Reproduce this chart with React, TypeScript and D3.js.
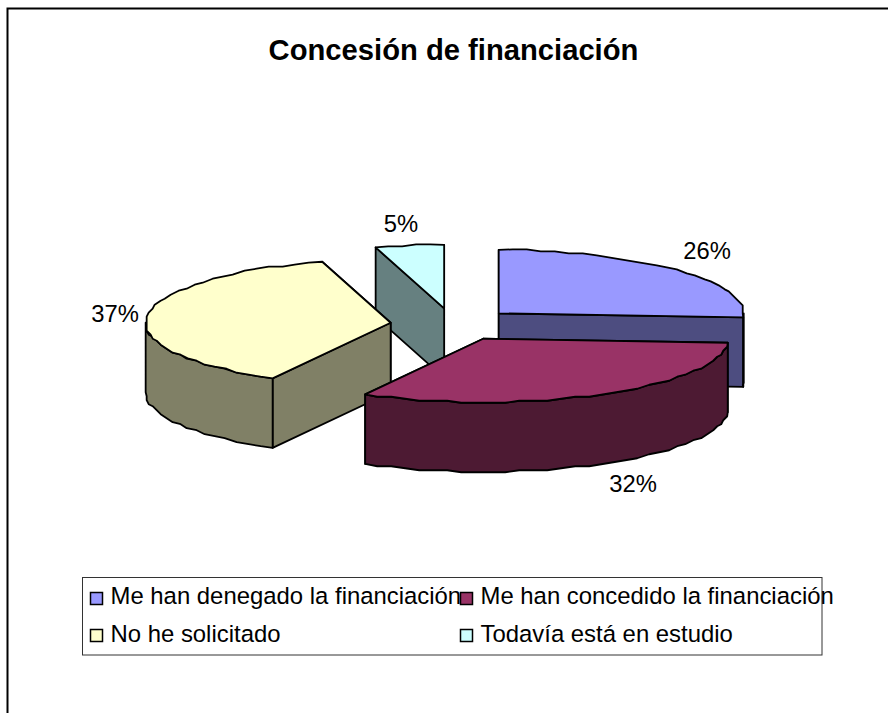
import React from "react";
import * as d3 from "d3";

const titleText = "Concesión de financiación";
const categories = [
  "Me han denegado la financiación",
  "Me han concedido la financiación",
  "No he solicitado",
  "Todavía está en estudio",
];
const values = [26.0, 32.0, 37.49, 4.51];
const topColors = ["#9999FF", "#993366", "#FFFFCC", "#CCFFFF"];
const wallColors = ["#4D4D80", "#4D1A33", "#808066", "#668080"];
const labelAnchors = [
  [707, 259],
  [633, 492],
  [115, 321.5],
  [401, 232],
];

const W = 888;
const H = 713;
const cx = 453;
const cy = 324.5;
const rx = 245;
const ry = 63.5;
const depth = 69.5;
const explode = 0.256;
const grid = 2;

const project = (a: number, r = 1) => [r * rx * Math.sin(a), -r * ry * Math.cos(a)];

function arcPoints(ox: number, oy: number, a0: number, a1: number) {
  const n = Math.max(2, Math.ceil(Math.abs(a1 - a0) / 0.06));
  return d3.range(n + 1).map((i) => {
    const a = a0 + ((a1 - a0) * i) / n;
    const [x, y] = project(a);
    const edge = i === 0 || i === n;
    return [
      ox + (edge ? x : Math.round(x / grid) * grid),
      oy + (edge ? y : Math.round(y / grid) * grid),
    ] as [number, number];
  });
}

export default function App() {
  const arcs = d3.pie<number>().sort(null)(values);
  const line = d3.line();
  const slices = arcs
    .map((d) => {
      const mid = (d.startAngle + d.endAngle) / 2;
      const [ex, ey] = project(mid, explode);
      return { d, ox: cx + ex, oy: cy + ey };
    })
    .sort((p, q) => p.oy - q.oy);

  const legendX = d3.scaleOrdinal<number, number>().domain([0, 1]).range([90, 460]);
  const legendY = d3.scaleOrdinal<number, number>().domain([0, 1]).range([592, 629]);
  const legendBaseline = d3.scaleOrdinal<number, number>().domain([0, 1]).range([604, 642]);

  return (
    <svg
      width={W}
      height={H}
      viewBox={`0 0 ${W} ${H}`}
      style={{ position: "absolute", left: 0, top: 0, display: "block", background: "#fff" }}
      fontFamily="'Liberation Sans', Arial, sans-serif"
    >
      <path d={`M7.5 713V8.5H888`} fill="none" stroke="#000" strokeWidth={2} />
      <text x={453.5} y={60} textAnchor="middle" fontSize={29.2} fontWeight="bold" fill="#000">
        {titleText}
      </text>

      {slices.map(({ d, ox, oy }) => {
        const i = d.index;
        const a0 = d.startAngle;
        const a1 = d.endAngle;
        const top = arcPoints(ox, oy, a0, a1);
        const apex: [number, number] = [ox, oy];
        const radial = [
          { p: top[0] },
          { p: top[top.length - 1] },
        ].sort((m, n) => m.p[1] - n.p[1]);
        const f0 = Math.max(a0, Math.PI / 2);
        const f1 = Math.min(a1, (3 * Math.PI) / 2);
        const front = f1 > f0 ? arcPoints(ox, oy, f0, f1) : null;
        return (
          <g key={i} stroke="#000" strokeWidth={1.8} strokeLinejoin="round">
            {radial.map((r, k) => (
              <path
                key={k}
                fill={wallColors[i]}
                d={
                  line([
                    apex,
                    r.p,
                    [r.p[0], r.p[1] + depth],
                    [apex[0], apex[1] + depth],
                  ])! + "Z"
                }
              />
            ))}
            {front && (
              <path
                fill={wallColors[i]}
                d={
                  line([
                    ...front,
                    ...front
                      .slice()
                      .reverse()
                      .map((p) => [p[0], p[1] + depth] as [number, number]),
                  ])! + "Z"
                }
              />
            )}
            <path fill={topColors[i]} d={line([apex, ...top])! + "Z"} />
          </g>
        );
      })}

      {values.map((v, i) => (
        <text key={i} x={labelAnchors[i][0]} y={labelAnchors[i][1]} textAnchor="middle" fontSize={23.8} fill="#000">
          {`${Math.round(v)}%`}
        </text>
      ))}

      <rect x={82.5} y={577.5} width={739.5} height={77.5} fill="none" stroke="#333" strokeWidth={1} />
      {categories.map((c, i) => {
        const col = i % 2;
        const row = Math.floor(i / 2);
        const x = legendX(col);
        const y = legendY(row);
        return (
          <g key={c}>
            <rect x={x + 0.5} y={y + 0.5} width={12} height={12} fill={topColors[i]} stroke="#000" strokeWidth={1.5} />
            <text x={x + 20.5} y={legendBaseline(row)} fontSize={23.9} fill="#000">
              {c}
            </text>
          </g>
        );
      })}
    </svg>
  );
}
